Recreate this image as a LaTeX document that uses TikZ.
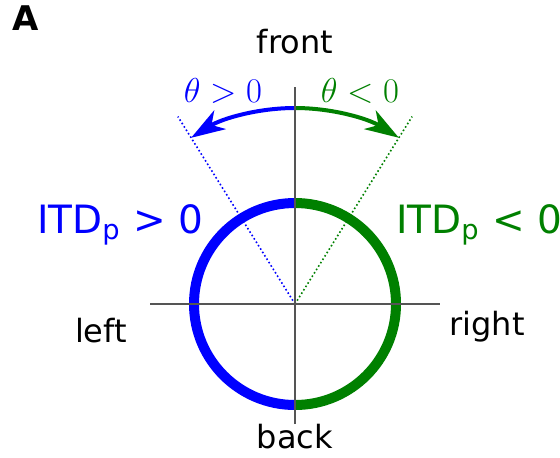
\documentclass[tikz,border=0pt]{standalone}
\usepackage{fontspec}
\usepackage{amsmath}
\setmainfont{DejaVu Sans}
\usetikzlibrary{arrows.meta}
\definecolor{Axis}{HTML}{555555}
\definecolor{Pos}{HTML}{0000FF}
\definecolor{Neg}{HTML}{008000}

\begin{document}
\begin{tikzpicture}[
 x=0.5pt,y=0.5pt,
 ax/.style={draw=Axis,line width=0.75pt},
 ring/.style={line width=5pt},
 ray/.style={line width=0.8pt,dash pattern=on 0.8pt off 1.2pt},
 arr/.style={line width=2pt,-{Stealth[length=17pt,width=11pt,inset=5pt]}},
 lbl/.style={font=\fontsize{16}{18}\selectfont,anchor=base,inner sep=0pt},
 itd/.style={font=\fontsize{19.5}{22}\selectfont,anchor=base,inner sep=0pt},
 ang/.style={font=\fontsize{16}{18}\selectfont,anchor=base,inner sep=0pt}
]
\useasboundingbox (0,0) rectangle (560,457);
\coordinate (o) at (295,153);
\coordinate (axl) at (150,153);
\coordinate (axr) at (440,153);
\coordinate (axt) at (295,370);
\coordinate (axb) at (295,33);
% head, left half blue, right half green
\draw[ring,Pos] ([shift={(90:101)}]o) arc[start angle=90,end angle=270,radius=101];
\draw[ring,Neg] ([shift={(90:101)}]o) arc[start angle=90,end angle=-90,radius=101];
% sector edges
\draw[ray,Pos] (o) -- ++(122:221);
\draw[ray,Neg] (o) -- ++(58:221);
% azimuth arrows
\draw[arr,Pos] ([shift={(90:196)}]o) arc[start angle=90,end angle=122,radius=196];
\draw[arr,Neg] ([shift={(90:196)}]o) arc[start angle=90,end angle=58,radius=196];
% axes
\draw[ax] (axl) -- (axr);
\draw[ax] (axb) -- (axt);
% labels
\node[lbl] (front) at (295,404) {front};
\node[lbl] (back) at (295,9) {back};
\node[lbl] (left) at (101,115) {left};
\node[lbl] (right) at (487,122) {right};
\node[itd,text=Pos] (itdpos) at (120,224) {ITD$_{\text{p}}$ > 0};
\node[itd,text=Neg] (itdneg) at (479,224) {ITD$_{\text{p}}$ < 0};
\node[ang,text=Pos] (thpos) at (223,355) {$\theta>0$};
\node[ang,text=Neg] (thneg) at (360,355) {$\theta<0$};
\node[font=\fontsize{17}{20}\selectfont\bfseries,anchor=base west,inner sep=0pt] (panel) at (12,427) {A};
\end{tikzpicture}
\end{document}
